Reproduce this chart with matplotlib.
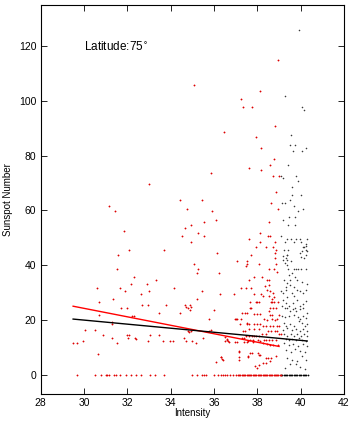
import matplotlib
matplotlib.use('Agg')
import matplotlib.pyplot as plt

plt.rcParams['font.family'] = ['Liberation Sans', 'DejaVu Sans']

# red subset
red_x = [35.09, 38.94, 38.10, 37.26, 37.35, 37.75, 38.80, 36.44, 37.93,
         38.19, 38.75, 38.58, 37.63, 38.17, 35.86, 38.72, 38.99, 33.02, 38.86,
         38.64, 34.43, 35.46, 31.16, 31.44, 34.74, 35.90, 38.95, 35.53, 34.94,
         38.54, 36.09, 34.65, 31.87, 35.26, 38.14, 34.52, 35.53, 38.51, 38.60,
         37.61, 34.94, 38.12, 38.80, 37.93, 38.42, 38.72, 32.09, 33.70, 38.85,
         38.80, 31.55, 36.13, 37.72, 38.83, 38.86, 37.04, 37.54, 37.51, 37.48,
         38.08, 35.09, 31.52, 35.25, 35.22, 36.24, 38.54, 38.77, 32.32, 37.86,
         38.20, 38.90, 38.43, 38.52, 37.60, 38.53, 37.46, 37.70, 38.37, 38.46,
         38.58, 38.72, 38.78, 38.69, 38.53, 37.85, 38.15, 38.28,
         29.49, 29.68, 29.94, 30.03, 30.52, 30.62, 30.68, 30.68, 30.65, 30.89,
         31.34, 31.29, 31.29, 31.29, 31.51, 31.66, 31.72, 31.91, 31.97, 32.00,
         32.08, 32.05, 32.15, 32.22, 32.29, 32.35, 32.42, 32.65, 32.69, 32.91,
         32.98, 32.97, 32.97, 33.05, 33.31, 33.45, 33.45, 33.66, 33.80, 33.98,
         34.12, 34.15, 34.45, 34.65, 34.71, 34.78, 34.88, 34.91, 34.95, 34.63,
         34.80, 34.86, 34.93, 34.71, 34.98, 35.15, 35.20, 35.45, 35.49, 35.78,
         35.86, 35.78, 36.02, 36.08, 36.29, 36.34, 36.38, 36.60, 36.65, 36.94,
         37.00, 37.04, 37.14, 37.25, 37.15, 37.29, 37.57, 37.58,
         37.67, 37.93, 37.99, 38.06, 38.63, 38.68, 38.76, 38.93, 37.67, 37.73,
         38.58, 38.72, 38.84, 38.55, 37.41, 37.52, 37.86, 37.98, 38.14, 38.58,
         38.67, 38.98, 36.95, 37.24, 37.50, 37.63, 37.86, 37.97, 38.12, 38.32,
         38.43, 38.69, 38.80, 38.89, 38.27, 38.41, 38.60, 38.73, 38.89, 38.99,
         37.63, 37.86, 38.09, 38.47, 38.63, 38.81, 38.92, 38.21, 38.40, 38.98,
         39.09, 36.50, 36.60, 37.30, 37.40, 37.49, 37.61, 37.77, 37.86, 37.94,
         38.07, 37.67, 37.80, 38.04, 38.29, 38.40, 38.53, 38.66, 38.86, 37.40,
         37.52, 37.81, 38.27, 38.43, 38.58, 38.73, 38.95, 38.12, 37.15, 37.66,
         37.77, 38.01, 38.06, 38.14, 37.55, 38.38, 38.51, 38.63, 37.15, 36.41,
         36.33, 38.27, 38.38, 37.89, 38.06, 38.58, 38.86, 37.97, 36.50, 36.69,
         36.97, 37.06, 37.21, 37.50, 37.32, 37.44]
red_y = [105.7, 114.8, 103.5, 100.6, 97.7, 97.7, 90.8, 88.6, 86.9,
         82.7, 78.7, 76.4, 75.4, 74.7, 73.6, 72.6, 72.6, 69.7, 66.7,
         62.8, 63.7, 63.7, 61.6, 59.7, 60.5, 59.7, 60.5, 55.7, 54.5,
         55.7, 56.5, 53.5, 52.6, 51.7, 51.7, 50.6, 50.6, 50.6, 50.6,
         49.5, 48.4, 48.4, 48.4, 46.6, 46.6, 46.6, 45.6, 45.6, 45.6,
         44.3, 43.7, 44.3, 43.7, 42.7, 40.3, 41.5, 41.5, 40.6, 39.7,
         40.3, 40.3, 38.6, 38.6, 37.3, 37.3, 38.6, 38.6, 35.8, 35.8,
         35.8, 37.5, 34.7, 34.7, 34.7, 32.6, 31.6, 31.6, 32.2, 31.0,
         30.7, 29.8, 28.3, 27.5, 28.6, 29.5, 29.5, 28.6,
         11.6, 11.6, 12.4, 16.2, 16.4, 31.6, 26.6, 21.8, 7.7, 14.6,
         27.7, 19.1, 18.6, 13.4, 11.6, 31.6, 24.3, 30.4, 24.3, 14.6,
         14.6, 13.4, 33.2, 21.5, 21.5, 13.4, 13.0, 29.6, 25.5, 33.2,
         30.4, 25.5, 12.4, 14.6, 34.7, 22.5, 14.6, 12.4, 25.5, 12.4,
         12.4, 31.6, 22.5, 25.5, 24.6, 24.3, 25.5, 23.7, 24.6, 13.4,
         16.0, 15.6, 15.8, 12.4, 12.4, 11.6, 27.6, 30.4, 13.4, 20.3,
         16.4, 15.8, 23.7, 4.5, 29.6, 6.4, 5.7, 12.6, 12.2, 29.6,
         20.3, 20.3, 8.5, 31.6, 6.4, 22.5, 12.4, 6.4,
         26.5, 26.5, 26.5, 26.5, 26.5, 26.5, 26.5, 26.5, 24.5, 24.5,
         24.5, 24.5, 24.5, 23.4, 22.5, 22.5, 22.3, 22.3, 22.3, 21.9,
         21.9, 21.9, 20.3, 20.3, 18.6, 18.6, 18.6, 18.6, 18.6, 20.3,
         20.1, 20.3, 20.1, 20.3, 17.9, 17.9, 17.9, 17.9, 17.9, 17.9,
         16.8, 16.8, 16.8, 15.8, 15.8, 15.8, 15.8, 15.0, 15.0, 15.0,
         15.0, 13.6, 12.9, 13.4, 13.4, 14.0, 14.0, 14.0, 14.0, 14.0,
         14.0, 12.8, 12.8, 12.8, 12.8, 12.8, 12.8, 12.8, 12.8, 12.0,
         12.0, 11.9, 11.6, 11.2, 11.0, 10.8, 10.8, 12.4, 8.3, 7.9,
         7.9, 7.9, 7.0, 7.2, 6.7, 6.0, 6.0, 6.0, 5.5, 5.5,
         6.3, 4.3, 4.3, 3.0, 3.5, 4.9, 6.7, 2.4, 12.2, 11.8,
         11.8, 11.8, 18.5, 18.9, 15.8, 15.8]

# zero sunspot rows
red_zero_x = [29.68, 30.52, 30.77, 31.02, 31.08, 31.15, 31.40, 31.46, 31.68,
              31.92, 32.15, 32.38, 32.65, 33.05, 33.29, 33.69, 35.00, 35.23,
              35.45, 35.55, 35.62, 35.98, 36.20, 36.31, 36.40, 36.51, 36.60,
              36.74, 36.89, 37.02, 37.10, 37.16, 37.22, 37.27, 37.33, 37.39,
              37.44, 37.50, 37.56, 37.61, 37.67, 37.73, 37.78, 37.84, 37.90,
              37.95, 38.01, 38.07, 38.12, 38.18, 38.24, 38.29, 38.35, 38.41,
              38.46, 38.52, 38.58, 38.63, 38.69, 38.75, 38.80, 38.86, 38.92,
              38.97, 39.03, 39.10]
black_zero_x = [39.10, 39.16, 39.22, 39.28, 39.33, 39.39, 39.45, 39.51,
                39.56, 39.62, 39.68, 39.74, 39.80, 39.85, 39.91, 39.97,
                40.03, 40.09, 40.14, 40.20, 40.26, 40.32]

# full set, black
black_x = [39.94, 39.26, 40.05, 40.14, 39.54,
           39.49, 39.72, 40.23, 39.63, 40.05, 39.41, 39.11, 39.18, 39.77, 39.89,
           39.61, 39.58, 40.01, 39.13, 39.26, 39.50, 39.69, 40.11, 39.89, 39.44,
           39.73, 39.17, 39.40, 39.72, 39.07, 39.37, 39.55, 39.78, 39.97, 40.28,
           39.26, 39.69, 40.03, 40.24, 40.15, 40.24, 39.21, 39.42, 39.97, 40.23,
           39.37, 39.31, 39.17, 39.55, 39.26,
           40.12, 40.24, 40.04, 40.27, 39.20, 39.38, 39.38, 40.01, 40.15, 39.37,
           39.41, 39.69, 39.78, 39.87, 40.03, 40.24, 39.47, 39.58, 39.72, 39.83,
           39.51, 39.23, 39.38, 39.51, 40.04, 40.27, 39.70, 39.32, 39.11, 39.20,
           39.34, 39.61, 39.81, 39.97, 40.12, 40.24, 39.38, 39.69, 39.20, 39.32,
           39.47, 39.66, 39.81, 39.97, 40.09, 40.24, 39.15, 39.75, 39.26, 39.38,
           39.51, 39.64, 39.80, 39.97, 40.12, 40.27, 39.14, 39.29, 39.44, 39.67,
           39.86, 39.97, 40.12, 40.24, 39.21, 39.32, 39.51, 39.71, 39.90, 40.06,
           40.20, 40.30, 39.38, 39.60, 39.78, 39.97, 40.10, 40.27, 39.17, 39.23,
           39.38, 39.54, 39.69, 39.84, 40.00, 40.15, 40.30, 39.31, 39.46, 39.61,
           39.77, 39.92, 40.07, 40.23, 39.23, 39.47, 39.66, 39.89, 40.12, 40.30,
           39.32, 39.54, 39.73, 39.97, 40.21, 39.38, 39.60, 39.81, 40.04, 40.23,
           39.77, 39.51, 39.29, 39.97, 40.21]
black_y = [125.8, 101.7, 97.8, 96.7, 87.5,
           83.8, 83.8, 82.7, 81.8, 81.8, 76.5, 72.6, 71.8, 72.6, 70.7,
           68.5, 65.7, 65.7, 62.8, 62.8, 63.7, 61.6, 60.5, 59.7, 57.6,
           57.6, 56.5, 54.6, 54.6, 50.6, 49.5, 49.5, 49.5, 49.5, 49.5,
           48.4, 48.4, 48.4, 47.6, 46.6, 45.6, 45.6, 45.6, 44.3, 43.7,
           43.7, 42.7, 41.9, 41.6, 40.8,
           46.5, 47.1, 45.0, 45.0, 43.2, 43.7, 42.0, 42.9, 42.5, 40.0,
           38.6, 38.6, 38.6, 38.6, 38.6, 38.6, 36.5, 37.1, 35.6, 34.4,
           34.7, 34.7, 33.5, 32.8, 33.7, 33.2, 32.0, 32.0, 30.4, 29.8,
           31.0, 29.8, 30.8, 30.4, 29.8, 31.0, 28.3, 28.6, 27.1, 26.2,
           25.2, 26.2, 27.1, 25.2, 25.9, 26.8, 24.9, 24.2, 24.2, 24.2,
           23.1, 24.0, 23.4, 24.0, 24.2, 22.7, 21.5, 21.0, 21.5, 21.9,
           21.0, 20.3, 21.5, 20.7, 18.9, 17.6, 18.6, 17.9, 19.5, 18.9,
           17.6, 18.6, 17.0, 16.4, 16.7, 15.8, 16.7, 15.8, 16.4, 15.0,
           14.2, 15.0, 14.0, 14.7, 14.0, 15.0, 14.0, 13.1, 12.8, 13.0,
           12.5, 13.3, 12.8, 12.3, 11.6, 10.9, 11.3, 10.6, 11.2, 10.6,
           9.1, 8.2, 9.4, 8.5, 8.2, 6.1, 5.5, 4.9, 6.7, 5.5,
           4.0, 4.0, 2.4, 2.8, 2.1]

# fitted trend lines (end points)
red_fit_x = [29.5, 39.0]
red_fit_y = [25.0, 10.3]
black_fit_x = [29.5, 40.3]
black_fit_y = [20.3, 12.3]

fig = plt.figure(figsize=(3.5, 4.23), dpi=100)
ax = fig.add_axes([0.116, 0.069, 0.867, 0.919])

ax.plot(black_x, black_y, '.', color='#333333', markersize=1.6, markeredgewidth=0.3)
ax.plot(black_zero_x, [0] * len(black_zero_x), '.', color='black',
        markersize=1.8, markeredgewidth=0.3)
ax.plot(red_x, red_y, '.', color='#dd0000', markersize=1.9, markeredgewidth=0.3)
ax.plot(red_zero_x, [0] * len(red_zero_x), '.', color='#e00000',
        markersize=1.9, markeredgewidth=0.3)

ax.plot(red_fit_x, red_fit_y, color='red', linewidth=1.0)
ax.plot(black_fit_x, black_fit_y, color='black', linewidth=1.0)

ax.set_xlim(28, 42)
ax.set_ylim(-7, 135)
ax.set_xticks(range(28, 43, 2))
ax.set_yticks(range(0, 121, 20))
ax.tick_params(direction='in', top=True, right=True, length=4, width=0.6,
               labelsize=7.5, pad=3)
for s in ax.spines.values():
    s.set_linewidth(0.8)

ax.set_xlabel('Intensity', fontsize=7, labelpad=0)
ax.set_ylabel('Sunspot Number', fontsize=7, labelpad=4)
ax.text(30.0, 119.5, r'Latitude:75$^{\circ}$', fontsize=8.5, va='center')

fig.savefig('out.png', dpi=100)
